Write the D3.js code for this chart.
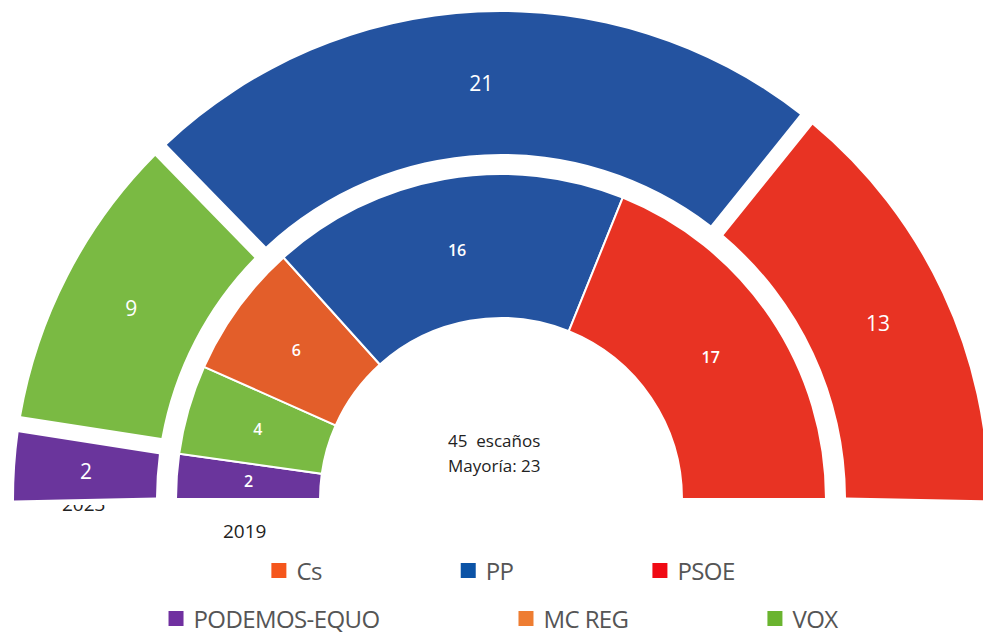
<!DOCTYPE html>
<html><head><meta http-equiv="Content-Type" content="text/html; charset=UTF-8">
    <!-- D3 from CDN -->
    <script src="https://d3js.org/d3.v7.min.js"></script>
    <style>
      body { margin: 0; background: #fff; }
      svg { display: block; }
      text { font-family: "Open Sans", sans-serif; }
    </style>
</head>
<body>
<script type="text/javascript">
      "use strict";
      // Seats per party, same order in both rings (left to right)
      const parties = ["PODEMOS-EQUO", "VOX", "Cs", "PP", "PSOE"];
      const seats2023 = [2, 9, 0, 21, 13];   // outer ring
      const seats2019 = [2, 4, 6, 16, 17];   // inner ring
      const totalSeats = 45;
      const majority = 23;

      // Legend rows
      const legendRow1 = ["Cs", "PP", "PSOE"];
      const legendRow2 = ["PODEMOS-EQUO", "MC REG", "VOX"];

      const arcColors = {
          "PODEMOS-EQUO": "#6a359c",
          "VOX": "#7aba43",
          "Cs": "#e35e2a",
          "PP": "#2453a0",
          "PSOE": "#e83323"
      };
      const legendColors = {
          "Cs": "#f5561c",
          "PP": "#0b53a6",
          "PSOE": "#f00a14",
          "PODEMOS-EQUO": "#7030a0",
          "MC REG": "#ee7d32",
          "VOX": "#6ab42f"
      };

      let width = 983, height = 634,
          cx = 501, cy = 499;

      let svg = d3.select("body").append("svg")
          .attr("width", width)
          .attr("height", height);

      // 2023 label sits mostly hidden behind the outer ring
      svg.append("text")
          .attr("x", 62).attr("y", 511)
          .style("font-size", "19px")
          .style("fill", "#222")
          .text("2023");
      svg.append("rect")
          .attr("x", 55).attr("y", 495)
          .attr("width", 60).attr("height", 10)
          .attr("fill", "#fff");

      let g = svg.append("g").attr("transform", `translate(${cx},${cy})`);

      function rows(values) {
          return parties.map((p, i) => ({party: p, seats: values[i]}))
              .filter(d => d.seats > 0);
      }

      // Outer ring: 2023, separated by wide gaps
      let pad = 0.039;
      let outerPie = d3.pie().sort(null).value(d => d.seats)
          .startAngle(-Math.PI / 2 - pad / 2)
          .endAngle(Math.PI / 2 + pad / 2)
          .padAngle(pad);
      let outerArc = d3.arc().innerRadius(345).outerRadius(487).padRadius(416);

      let outer = g.append("g").selectAll("g")
          .data(outerPie(rows(seats2023)))
          .join("g");
      outer.append("path")
          .attr("d", outerArc)
          .attr("fill", d => arcColors[d.data.party]);
      outer.append("text")
          .attr("transform", d => `translate(${outerArc.centroid(d)})`)
          .attr("text-anchor", "middle")
          .attr("dy", "0.36em")
          .style("fill", "#fff")
          .style("font-size", "21px")
          .text(d => d.data.seats);

      // Inner ring: 2019, thin white separators
      let innerPie = d3.pie().sort(null).value(d => d.seats)
          .startAngle(-Math.PI / 2)
          .endAngle(Math.PI / 2);
      let innerArc = d3.arc().innerRadius(181).outerRadius(325);

      let inner = g.append("g").selectAll("g")
          .data(innerPie(rows(seats2019)))
          .join("g");
      inner.append("path")
          .attr("d", innerArc)
          .attr("fill", d => arcColors[d.data.party])
          .attr("stroke", "#fff")
          .attr("stroke-width", 2);
      inner.append("text")
          .attr("transform", d => `translate(${innerArc.centroid(d)})`)
          .attr("text-anchor", "middle")
          .attr("dy", "0.36em")
          .style("fill", "#fff")
          .style("font-size", "16px")
          .style("font-weight", "600")
          .text(d => d.data.seats);

      // Centre text
      let centre = svg.append("text")
          .attr("x", 448)
          .style("font-size", "17px")
          .style("fill", "#222")
          .style("white-space", "pre");
      centre.append("tspan").attr("x", 448).attr("y", 447).text(totalSeats + "  escaños");
      centre.append("tspan").attr("x", 448).attr("y", 472).text("Mayoría: " + majority);

      svg.append("text")
          .attr("x", 223).attr("y", 538)
          .style("font-size", "19px")
          .style("fill", "#222")
          .text("2019");

      // Legend: each row centred, fixed gap between items
      function legendRow(names, baseline) {
          let row = svg.append("g");
          let x = 0, gap = 139, box = 15, boxGap = 10;
          names.forEach(name => {
              let item = row.append("g").attr("transform", `translate(${x},0)`);
              item.append("rect")
                  .attr("x", 0).attr("y", baseline - 17)
                  .attr("width", box).attr("height", box)
                  .attr("fill", legendColors[name]);
              let t = item.append("text")
                  .attr("x", box + boxGap).attr("y", baseline)
                  .style("font-size", "24px")
                  .style("letter-spacing", "-0.6px")
                  .style("fill", "#555")
                  .text(name);
              x += box + boxGap + t.node().getComputedTextLength() + gap;
          });
          let w = x - gap;
          row.attr("transform", `translate(${503 - w / 2},0)`);
      }
      legendRow(legendRow1, 580);
      legendRow(legendRow2, 628);
</script>
</body>
</html>
